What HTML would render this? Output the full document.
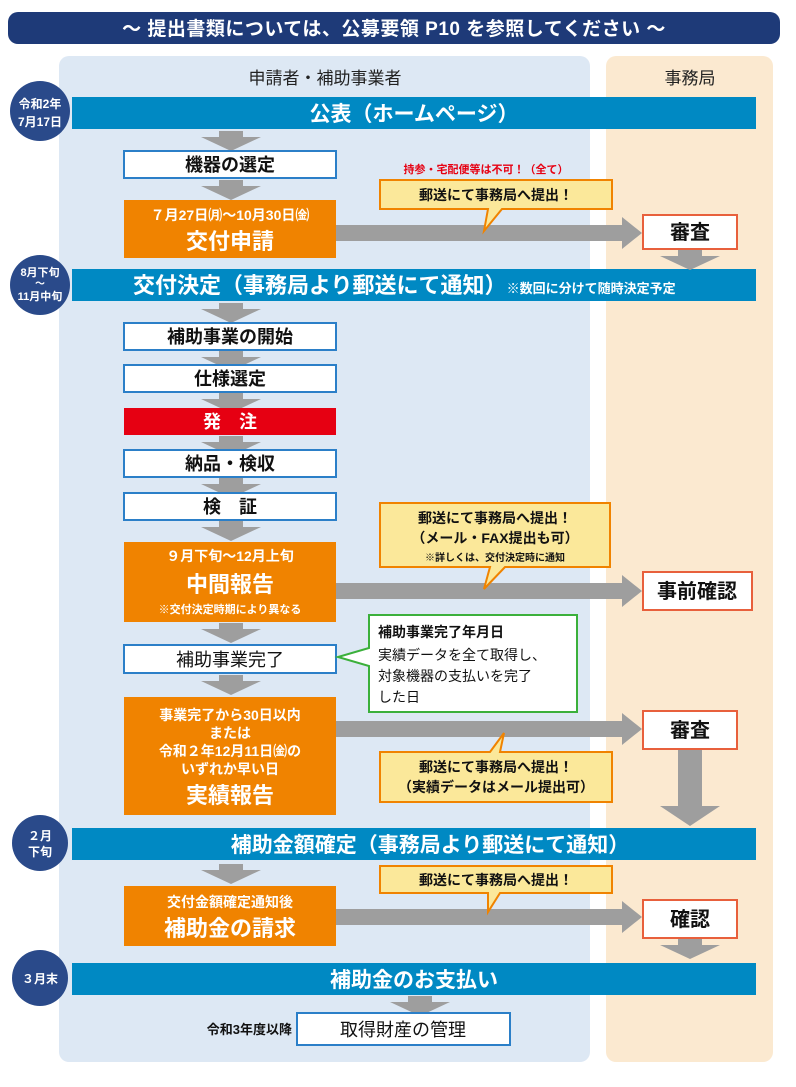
<!DOCTYPE html>
<html><head><meta charset="utf-8"><style>
html,body{margin:0;padding:0;background:#fff;}
svg{display:block;font-family:"Liberation Sans","Noto Sans CJK JP",sans-serif;font-weight:bold;}
</style></head><body>
<svg width="796" height="1087" viewBox="0 0 796 1087" xmlns="http://www.w3.org/2000/svg">
<defs>
<g id="da"><polygon points="-12,0 12,0 12,6 30,6 0,20 -30,6 -12,6" fill="#9e9e9e"/></g>
</defs>
<rect x="8" y="12" width="772" height="32" rx="10" fill="#1e3a78"/>
<text x="394" y="35" font-size="19" fill="#fff" text-anchor="middle" letter-spacing="0.5">〜 提出書類については、公募要領 P10 を参照してください 〜</text>
<rect x="59" y="56" width="531" height="1006" rx="10" fill="#dde8f4"/>
<rect x="606" y="56" width="167" height="1006" rx="10" fill="#fbe9d0"/>
<text x="325" y="84" font-size="17" fill="#222" text-anchor="middle" style="font-weight:normal">申請者・補助事業者</text>
<text x="690" y="84" font-size="17" fill="#222" text-anchor="middle" style="font-weight:normal">事務局</text>

<rect x="72" y="97" width="684" height="32" fill="#0089c3"/>
<text x="414" y="121" font-size="21" fill="#fff" text-anchor="middle">公表（ホームページ）</text>
<rect x="72" y="269" width="684" height="32" fill="#0089c3"/>
<text x="133" y="293" font-size="22" fill="#fff">交付決定（事務局より郵送にて通知）<tspan font-size="13">※数回に分けて随時決定予定</tspan></text>
<rect x="72" y="828" width="684" height="32" fill="#0089c3"/>
<text x="430" y="852" font-size="21" fill="#fff" text-anchor="middle">補助金額確定（事務局より郵送にて通知）</text>
<rect x="72" y="963" width="684" height="32" fill="#0089c3"/>
<text x="414" y="987" font-size="21" fill="#fff" text-anchor="middle">補助金のお支払い</text>

<g fill="#2a4a8a"><circle cx="40" cy="111" r="30"/><circle cx="40" cy="285" r="30"/><circle cx="40" cy="843" r="28"/><circle cx="40" cy="978" r="28"/></g>
<g fill="#fff" font-size="12" text-anchor="middle">
<text x="40" y="108">令和2年</text><text x="40" y="126">7月17日</text>
<text x="40" y="276" font-size="11">8月下旬</text><text x="40" y="287" font-size="10">〜</text><text x="40" y="300" font-size="11">11月中旬</text>
<text x="40" y="840">２月</text><text x="40" y="856">下旬</text>
<text x="40" y="983">３月末</text>
</g>

<g>
<use href="#da" x="231" y="131"/><use href="#da" x="231" y="180"/>
<use href="#da" x="231" y="303"/><use href="#da" x="231" y="351"/><use href="#da" x="231" y="393"/>
<use href="#da" x="231" y="436"/><use href="#da" x="231" y="478"/><use href="#da" x="231" y="521"/>
<use href="#da" x="231" y="623"/><use href="#da" x="231" y="675"/><use href="#da" x="231" y="864"/>
<use href="#da" x="420" y="996"/>
<use href="#da" x="690" y="250"/><use href="#da" x="690" y="939"/>
</g>
<polygon points="678,750 702,750 702,806 720,806 690,826 660,806 678,806" fill="#9e9e9e"/>

<g fill="#fff" stroke="#2b7fc8" stroke-width="2">
<rect x="124" y="151" width="212" height="27"/>
<rect x="124" y="323" width="212" height="27"/>
<rect x="124" y="365" width="212" height="27"/>
<rect x="124" y="450" width="212" height="27"/>
<rect x="124" y="493" width="212" height="27"/>
<rect x="124" y="645" width="212" height="28"/>
<rect x="297" y="1013" width="213" height="32"/>
</g>
<g font-size="18" fill="#111" text-anchor="middle">
<text x="230" y="171">機器の選定</text>
<text x="230" y="343">補助事業の開始</text>
<text x="230" y="385">仕様選定</text>
<text x="230" y="470">納品・検収</text>
<text x="230" y="513">検　証</text>
<text x="230" y="666" style="font-weight:normal">補助事業完了</text>
<text x="403" y="1036" style="font-weight:normal">取得財産の管理</text>
</g>
<text x="292" y="1034" font-size="13" fill="#111" text-anchor="end">令和3年度以降</text>
<rect x="124" y="408" width="212" height="27" fill="#e60012"/>
<text x="230" y="428" font-size="18" fill="#fff" text-anchor="middle">発　注</text>

<g fill="#f08300">
<rect x="124" y="200" width="212" height="58"/>
<rect x="124" y="542" width="212" height="80"/>
<rect x="124" y="697" width="212" height="118"/>
<rect x="124" y="886" width="212" height="60"/>
</g>
<g fill="#fff" text-anchor="middle">
<text x="230" y="220" font-size="14">７月27日㈪〜10月30日㈮</text>
<text x="230" y="249" font-size="22">交付申請</text>
<text x="230" y="561" font-size="14">９月下旬〜12月上旬</text>
<text x="230" y="592" font-size="22">中間報告</text>
<text x="230" y="613" font-size="11">※交付決定時期により異なる</text>
<text x="230" y="720" font-size="14">事業完了から30日以内</text>
<text x="230" y="738" font-size="14">または</text>
<text x="230" y="756" font-size="14">令和２年12月11日㈮の</text>
<text x="230" y="774" font-size="14">いずれか早い日</text>
<text x="230" y="803" font-size="22">実績報告</text>
<text x="230" y="907" font-size="14">交付金額確定通知後</text>
<text x="230" y="936" font-size="22">補助金の請求</text>
</g>

<g fill="#9e9e9e">
<polygon points="336,225 622,225 622,217 642,233 622,249 622,241 336,241"/>
<polygon points="336,583 622,583 622,575 642,591 622,607 622,599 336,599"/>
<polygon points="336,721 622,721 622,713 642,729 622,745 622,737 336,737"/>
<polygon points="336,909 622,909 622,901 642,917 622,933 622,925 336,925"/>
</g>

<g fill="#fff" stroke="#e8603c" stroke-width="2">
<rect x="643" y="215" width="94" height="34"/>
<rect x="643" y="572" width="109" height="38"/>
<rect x="643" y="711" width="94" height="38"/>
<rect x="643" y="900" width="94" height="38"/>
</g>
<g font-size="20" fill="#111" text-anchor="middle">
<text x="690" y="239">審査</text>
<text x="697" y="598">事前確認</text>
<text x="690" y="737">審査</text>
<text x="690" y="926">確認</text>
</g>

<text x="486" y="173" font-size="11" fill="#e60012" text-anchor="middle">持参・宅配便等は不可！（全て）</text>
<g fill="#fbe89a" stroke="#f08300" stroke-width="2">
<path d="M380,180 H612 V209 H502 L484,231 L488,209 H380 Z"/>
<path d="M380,503 H610 V567 H505 L484,589 L490,567 H380 Z"/>
<path d="M380,752 H490 L504,733 L500,752 H612 V802 H380 Z"/>
<path d="M380,866 H612 V893 H500 L488,912 L488,893 H380 Z"/>
</g>
<g font-size="14" fill="#111" text-anchor="middle">
<text x="496" y="200">郵送にて事務局へ提出！</text>
<text x="495" y="523">郵送にて事務局へ提出！</text>
<text x="495" y="543">（メール・FAX提出も可）</text>
<text x="495" y="561" font-size="10">※詳しくは、交付決定時に通知</text>
<text x="496" y="772">郵送にて事務局へ提出！</text>
<text x="496" y="792">（実績データはメール提出可）</text>
<text x="496" y="885">郵送にて事務局へ提出！</text>
</g>
<path d="M369,615 H577 V712 H369 V666 L338,657 L369,648 Z" fill="#fff" stroke="#3bb03b" stroke-width="2"/>
<g font-size="14" fill="#111">
<text x="378" y="637">補助事業完了年月日</text>
<text x="378" y="660" style="font-weight:normal">実績データを全て取得し、</text>
<text x="378" y="681" style="font-weight:normal">対象機器の支払いを完了</text>
<text x="378" y="702" style="font-weight:normal">した日</text>
</g>
</svg>
</body></html>
